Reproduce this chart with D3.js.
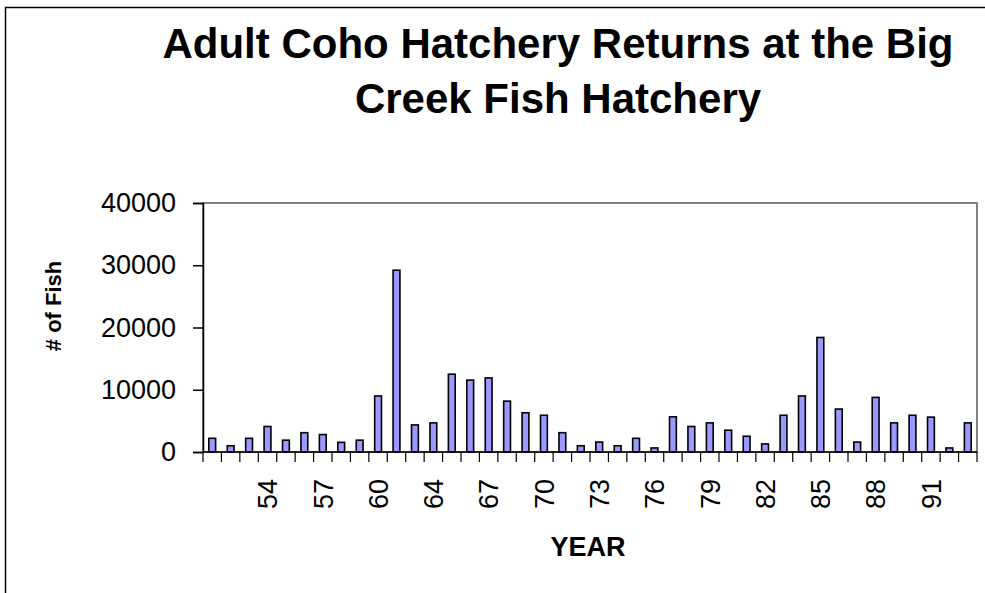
<!DOCTYPE html>
<html>
<head>
<meta charset="utf-8">
<script src="https://d3js.org/d3.v7.min.js"></script>
<style>
  body { margin: 0; background: #fff; }
  text { font-family: "Liberation Sans", Arial, sans-serif; }
</style>
</head>
<body>
<svg></svg>
<script>
var w = 985;
var h = 593;

// years on the category axis (two-digit, as in the original sheet)
var years = ["51","52","53","54","55","56","57","58","59","60",
             "61","62","64","65","66","67","68","69","70","71",
             "72","73","74","75","76","77","78","79","80","81",
             "82","83","84","85","86","87","88","89","90","91",
             "92","93"];

// adult coho returns
var fish = [2200,1000,2200,4100,1900,3100,2800,1550,1900,9000,
            29200,4350,4680,12500,11550,11900,8170,6300,5900,3100,
            1000,1600,1000,2200,650,5650,4100,4680,3500,2530,
            1300,5900,9000,18400,6900,1600,8770,4680,5900,5600,
            650,4680];

var yTicks = [0, 10000, 20000, 30000, 40000];
var titleLines = ["Adult Coho Hatchery Returns at the Big", "Creek Fish Hatchery"];

// plot box (don't call it "top", that's window.top)
var pLeft = 203, pRight = 977, pTop = 203, pBottom = 452;

var svg = d3.select("svg")
    .attr("width", w)
    .attr("height", h);

svg.append("rect")
    .attr("width", w)
    .attr("height", h)
    .attr("fill", "#fff");

// outer chart frame (only top and left show in the picture)
svg.append("path")
    .attr("d", "M5.5," + h + "V7.5H" + w)
    .attr("fill", "none")
    .attr("stroke", "#000")
    .attr("stroke-width", 1.5);

var x = d3.scaleBand()
    .domain(d3.range(years.length))
    .range([pLeft, pRight])
    .padding(0);

var y = d3.scaleLinear()
    .domain([0, 40000])
    .range([pBottom, pTop]);

// plot area border, grey
svg.append("rect")
    .attr("x", pLeft)
    .attr("y", pTop)
    .attr("width", pRight - pLeft)
    .attr("height", pBottom - pTop)
    .attr("fill", "none")
    .attr("stroke", "#808080")
    .attr("stroke-width", 2);

// bars
var bw = x.bandwidth() * 0.37;
svg.selectAll("rect.bar")
    .data(fish)
    .enter()
    .append("rect")
    .attr("class", "bar")
    .attr("x", function(d, i) { return x(i) + (x.bandwidth() - bw) / 2; })
    .attr("y", function(d) { return y(d); })
    .attr("width", bw)
    .attr("height", function(d) { return y(0) - y(d); })
    .attr("fill", "#9999ff")
    .attr("stroke", "#000")
    .attr("stroke-width", 1.6);

// y axis
var yAxis = d3.axisLeft(y)
    .tickValues(yTicks)
    .tickSize(10)
    .tickPadding(17)
    .tickFormat(d3.format("d"));

var gy = svg.append("g")
    .attr("transform", "translate(" + pLeft + ",0)")
    .call(yAxis);
gy.selectAll("path, line").attr("stroke", "#000").attr("stroke-width", 1.5);
gy.selectAll("text")
    .attr("font-size", 27)
    .attr("font-family", "Liberation Sans, Arial, sans-serif")
    .attr("fill", "#000");

// x axis: ticks sit between categories
var gx = svg.append("g");
gx.append("line")
    .attr("x1", pLeft).attr("x2", pRight)
    .attr("y1", pBottom).attr("y2", pBottom)
    .attr("stroke", "#000")
    .attr("stroke-width", 1.5);

gx.selectAll("line.tick")
    .data(d3.range(years.length + 1))
    .enter()
    .append("line")
    .attr("class", "tick")
    .attr("x1", function(i) { return i < years.length ? x(i) : x.range()[1]; })
    .attr("x2", function(i) { return i < years.length ? x(i) : x.range()[1]; })
    .attr("y1", pBottom)
    .attr("y2", pBottom + 10)
    .attr("stroke", "#000")
    .attr("stroke-width", 1.2);

// every third label, first one left blank like the original
gx.selectAll("text")
    .data(years.map(function(d, i) { return {year: d, i: i}; })
        .filter(function(d) { return d.i > 0 && d.i % 3 == 0; }))
    .enter()
    .append("text")
    .attr("transform", function(d) {
        return "translate(" + (x(d.i) + x.bandwidth() / 2) + ",479) rotate(-90)";
    })
    .attr("text-anchor", "end")
    .attr("dy", "0.36em")
    .attr("font-size", 27)
    .text(function(d) { return d.year; });

// axis titles
svg.append("text")
    .attr("x", 588)
    .attr("y", 556)
    .attr("text-anchor", "middle")
    .attr("font-size", 27)
    .attr("font-weight", "bold")
    .text("YEAR");

svg.append("text")
    .attr("transform", "translate(61,306) rotate(-90)")
    .attr("text-anchor", "middle")
    .attr("font-size", 22)
    .attr("font-weight", "bold")
    .text("# of Fish");

// title
svg.selectAll("text.title")
    .data(titleLines)
    .enter()
    .append("text")
    .attr("class", "title")
    .attr("x", 558)
    .attr("y", function(d, i) { return 58 + i * 55; })
    .attr("text-anchor", "middle")
    .attr("font-size", 42)
    .attr("font-weight", "bold")
    .text(function(d) { return d; });
</script>
</body>
</html>
